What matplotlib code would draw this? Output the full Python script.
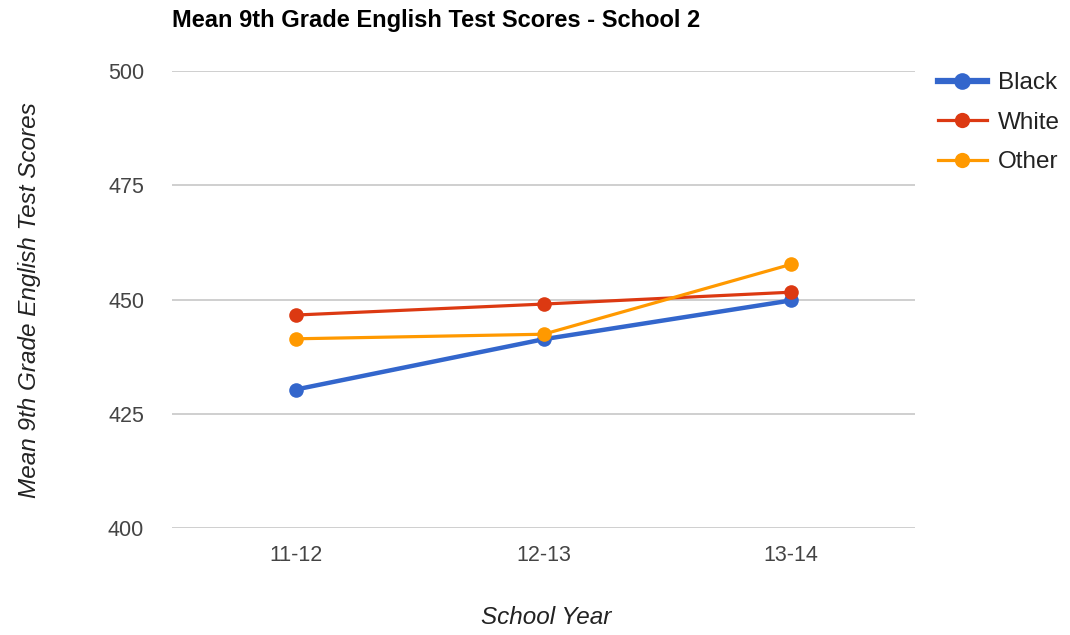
import matplotlib

matplotlib.use("Agg")
import matplotlib.pyplot as plt
from matplotlib.lines import Line2D
import numpy as np

plt.rcParams["font.family"] = ["Liberation Sans", "DejaVu Sans"]

years = ["11-12", "12-13", "13-14"]
black = [430.3, 441.3, 449.8]
white = [446.6, 449.0, 451.6]
other = [441.4, 442.4, 457.7]

y_ticks = [400, 425, 450, 475, 500]

series = [
    ("Black", black, "#3366CC", 3.2),
    ("White", white, "#DC3912", 2.3),
    ("Other", other, "#FF9900", 2.3),
]

fig = plt.figure(figsize=(10.7, 6.35), dpi=100)
ax = fig.add_axes([172 / 1070, 1 - 528 / 635, 743 / 1070, (528 - 71) / 635])

xs = np.arange(len(years))
for lab, ys, c, lw in series:
    ax.plot(xs, ys, color=c, linewidth=lw, marker="o", markersize=10.5,
            markeredgewidth=0, label=lab, zorder=3)

ax.set_xlim(-0.5, len(years) - 0.5)
ax.set_ylim(400, 500)
ax.set_yticks(y_ticks)
ax.set_xticks(xs)
ax.set_xticklabels(years)
ax.grid(True, axis="y", color="#cccccc", linewidth=1.3)
ax.set_axisbelow(True)
for s in ax.spines.values():
    s.set_visible(False)
ax.tick_params(axis="both", length=0, labelsize=15.5, labelcolor="#444444")
ax.tick_params(axis="y", pad=20)
ax.tick_params(axis="x", pad=12)

fig.text(172 / 1070, 1 - 20 / 635, "Mean 9th Grade English Test Scores - School 2",
         fontsize=17, fontweight="bold", ha="left", va="center", color="#000000",
         family=["Liberation Sans Narrow", "Liberation Sans", "DejaVu Sans"])
fig.text(30 / 1070, 1 - 300 / 635, "Mean 9th Grade English Test Scores",
         fontsize=17.5, style="italic", rotation=90, ha="center", va="center", color="#222222")
fig.text(546 / 1070, 1 - 617 / 635, "School Year",
         fontsize=17.5, style="italic", ha="center", va="center", color="#222222")

handles = [
    Line2D([], [], color="#3366CC", linewidth=4.5, marker="o", markersize=12, markeredgewidth=0),
    Line2D([], [], color="#DC3912", linewidth=2.3, marker="o", markersize=11, markeredgewidth=0),
    Line2D([], [], color="#FF9900", linewidth=2.3, marker="o", markersize=11, markeredgewidth=0),
]
leg = fig.legend(handles, [s[0] for s in series], loc="upper left",
                 bbox_to_anchor=(938 / 1070, 1 - 72 / 635), frameon=False,
                 fontsize=17.5, handlelength=2.0, handletextpad=0.45, labelspacing=0.72,
                 borderaxespad=0, borderpad=0)
for t in leg.get_texts():
    t.set_color("#222222")

fig.savefig("out.png", dpi=100)
